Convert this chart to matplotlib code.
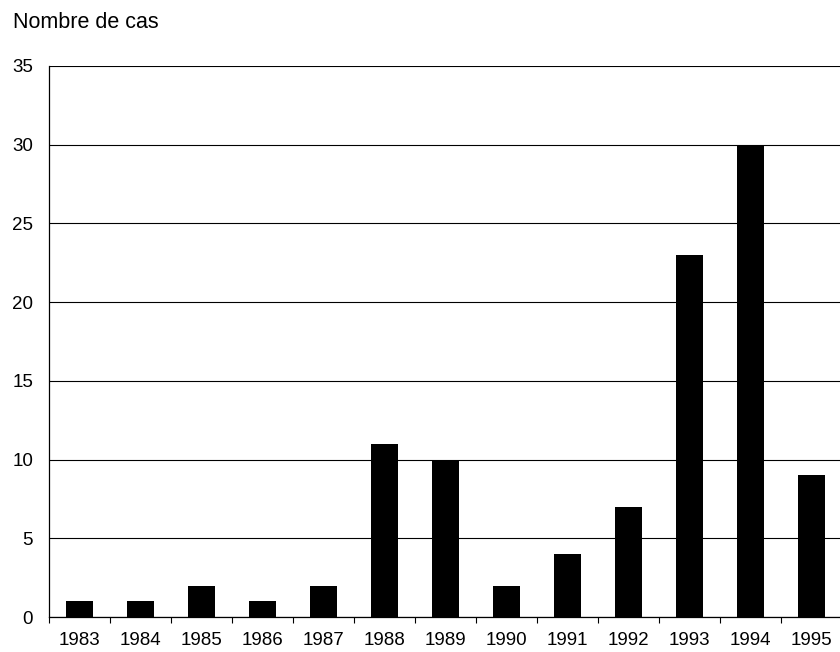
import matplotlib
matplotlib.use("Agg")
from matplotlib import pyplot as plt
from matplotlib.ticker import FixedLocator

years = ["1983", "1984", "1985", "1986", "1987", "1988", "1989",
         "1990", "1991", "1992", "1993", "1994", "1995"]
cases = [1, 1, 2, 1, 2, 11, 10, 2, 4, 7, 23, 30, 9]
y_ticks = [0, 5, 10, 15, 20, 25, 30, 35]

plt.rcParams["font.family"] = ["Liberation Sans", "DejaVu Sans"]

fig = plt.figure(figsize=(8.4, 6.52), dpi=100)
ax = fig.add_axes([49 / 840, 35 / 652, 793 / 840, 551 / 652])

x = list(range(len(years)))
ax.bar(x, cases, width=0.43, color="black", zorder=3)

ax.set_xlim(-0.5, len(years) - 0.5)
ax.set_ylim(0, 35)
ax.set_yticks(y_ticks)
ax.set_yticklabels([str(v) for v in y_ticks], fontsize=13.5)
ax.set_xticks(x)
ax.set_xticklabels(years, fontsize=13.5)
# small tick marks between categories, labels centred under bars
ax.xaxis.set_minor_locator(FixedLocator([i + 0.5 for i in range(-1, len(years))]))
ax.tick_params(axis="x", which="major", length=0, pad=11)
ax.tick_params(axis="x", which="minor", length=4, direction="out", width=0.8)
ax.tick_params(axis="y", length=0, pad=11.5)

ax.yaxis.grid(True, color="black", linewidth=0.8, zorder=0)
for s in ["top", "right"]:
    ax.spines[s].set_visible(False)
ax.spines["left"].set_linewidth(0.9)
ax.spines["bottom"].set_linewidth(0.9)

fig.text(13 / 840, 1 - 28 / 652, "Nombre de cas", fontsize=15.5, va="baseline", ha="left")

fig.savefig("out.png", dpi=100)
